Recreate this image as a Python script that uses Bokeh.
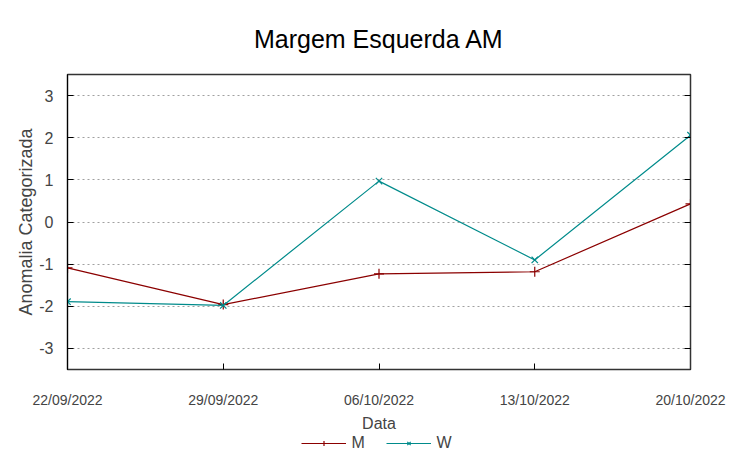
import pandas as pd
from bokeh.plotting import figure
from bokeh.layouts import column
from bokeh.models import (Range1d, FixedTicker, DatetimeTickFormatter, LinearAxis,
                          Legend, LegendItem)
from bokeh.embed import file_html
from bokeh.resources import INLINE

# ---- data ----
dates = ["2022-09-22", "2022-09-29", "2022-10-06", "2022-10-13", "2022-10-20"]
m_values = [-1.09, -1.96, -1.23, -1.18, 0.43]
w_values = [-1.89, -1.98, 0.97, -0.90, 2.06]
y_ticks = [-3, -2, -1, 0, 1, 2, 3]
series_names = ["M", "W"]

x = pd.to_datetime(dates)
x_ms = [int(v) for v in (x.astype("int64") // 10**6)]

FONT = "Liberation Sans"
m_color = "#8b0000"
w_color = "#008b8b"

p = figure(width=745, height=434, x_axis_type="datetime",
           output_backend="svg", toolbar_location=None,
           x_range=Range1d(x[0], x[-1]), y_range=Range1d(-3.5, 3.5),
           title="Margem Esquerda AM",
           min_border_left=67, min_border_right=55,
           min_border_top=74, min_border_bottom=64)

p.title.align = "center"
p.title.text_font = FONT
p.title.text_font_size = "25px"
p.title.text_font_style = "normal"
p.title.text_color = "black"
p.title.standoff = 44

p.background_fill_color = "white"
p.border_fill_color = "white"
p.outline_line_color = "#333333"
p.outline_line_width = 1.5

# x axis
xa = p.xaxis[0]
xa.ticker = FixedTicker(ticks=x_ms)
xa.formatter = DatetimeTickFormatter(days="%d/%m/%Y", months="%d/%m/%Y")
xa.major_label_text_font = FONT
xa.major_label_text_font_size = "14px"
xa.major_label_standoff = 22
xa.major_tick_in = 6
xa.major_tick_out = 0
xa.minor_tick_line_color = None
xa.axis_line_color = "#333333"
xa.axis_label = "Data"
xa.axis_label_text_font = FONT
xa.axis_label_text_font_size = "16px"
xa.axis_label_text_font_style = "normal"
xa.axis_label_standoff = 4

# y axis
ya = p.yaxis[0]
ya.ticker = FixedTicker(ticks=y_ticks)
ya.major_label_overrides = {t: str(t) for t in y_ticks}
ya.major_label_text_font = FONT
ya.major_label_text_font_size = "16px"
ya.major_label_standoff = 14
ya.major_tick_in = 6
ya.major_tick_out = 0
ya.minor_tick_line_color = None
ya.axis_line_color = "black"
ya.axis_label = "Anomalia Categorizada"
ya.axis_label_text_font = FONT
ya.axis_label_text_font_size = "18px"
ya.axis_label_text_font_style = "normal"
ya.axis_label_standoff = 0

# mirrored right axis (ticks only)
ra = LinearAxis(ticker=FixedTicker(ticks=y_ticks),
                major_label_overrides={t: "" for t in y_ticks},
                major_tick_in=6, major_tick_out=0,
                minor_tick_line_color=None, axis_line_color="#333333")
p.add_layout(ra, "right")

# grid
p.xgrid.visible = False
p.ygrid.ticker = FixedTicker(ticks=y_ticks)
p.ygrid.grid_line_color = "#a0a0a0"
p.ygrid.grid_line_dash = "2 3"
p.ygrid.grid_line_width = 1

# series
p.line(x, m_values, line_color=m_color, line_width=1.2)
p.scatter(x, m_values, marker="cross", size=10, line_color=m_color, line_width=1.2)
p.line(x, w_values, line_color=w_color, line_width=1.2)
p.scatter(x, w_values, marker="x", size=9, line_color=w_color, line_width=1.2)

# ---- legend strip (separate small figure with off-range legend proxies) ----
lg = figure(width=745, height=17, output_backend="svg", toolbar_location=None,
            x_range=Range1d(0, 1), y_range=Range1d(0, 1),
            min_border=0, outline_line_color=None)
lg.axis.visible = False
lg.grid.visible = False
proxy_x = [-5, -4]
proxy_y = [-5, -4]
m_l = lg.line(proxy_x, proxy_y, line_color=m_color, line_width=1.2)
m_s = lg.scatter(proxy_x, proxy_y, marker="cross", size=10, line_color=m_color, line_width=1.2)
w_l = lg.line(proxy_x, proxy_y, line_color=w_color, line_width=1.2)
w_s = lg.scatter(proxy_x, proxy_y, marker="x", size=9, line_color=w_color, line_width=1.2)

legend = Legend(items=[LegendItem(label=series_names[0], renderers=[m_l, m_s]),
                       LegendItem(label=series_names[1], renderers=[w_l, w_s])],
                orientation="horizontal", location="center",
                glyph_width=45, glyph_height=12,
                label_standoff=6, spacing=14, padding=0, margin=0,
                label_text_font=FONT, label_text_font_size="16px",
                border_line_color=None, background_fill_alpha=0)
lg.add_layout(legend, "center")

layout = column(p, lg, spacing=0)
open("out.html", "w").write(file_html(layout, INLINE))
